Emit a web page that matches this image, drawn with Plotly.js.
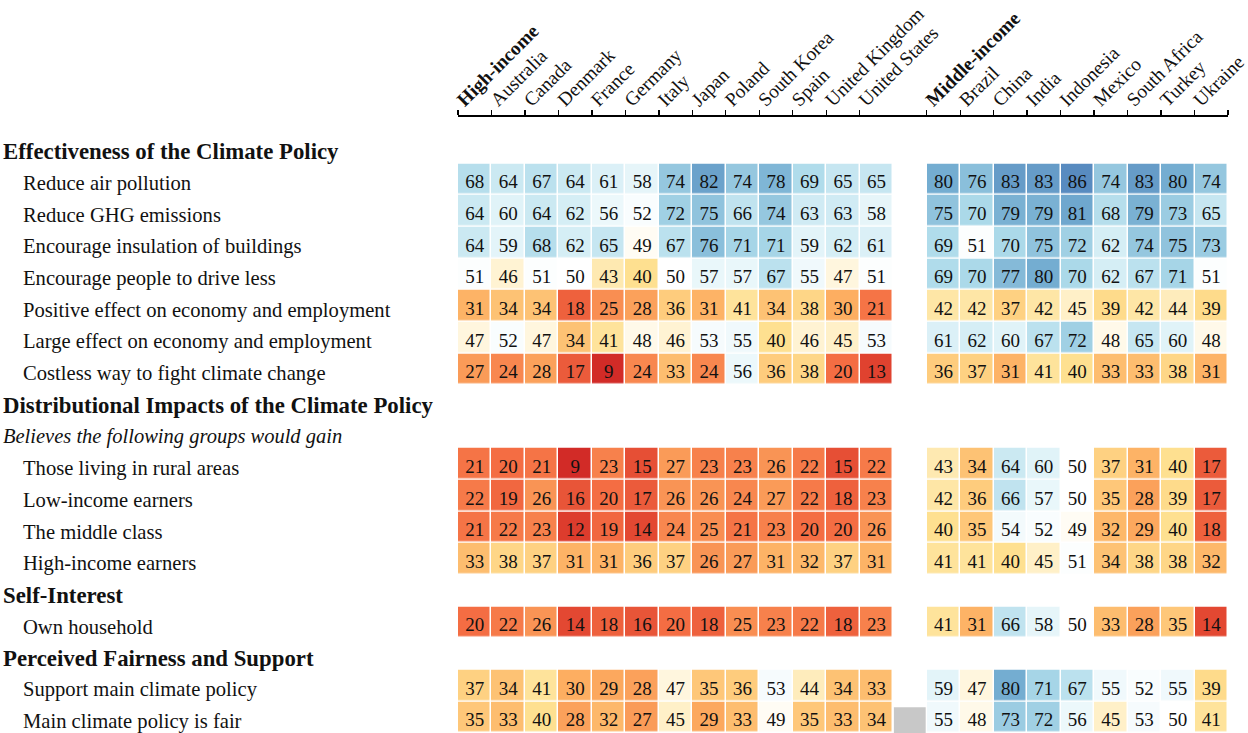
<!DOCTYPE html>
<html>
<head>
<meta charset="utf-8">
<script src="https://cdn.plot.ly/plotly-3.0.1.min.js"></script>
<style>html,body{margin:0;padding:0;background:#fff;}#chart{width:1248px;height:733px;}</style>
</head>
<body>
<div id="chart"></div>
<script>
// ---- Data ----
const highIncomeLabels = ['High-income','Australia','Canada','Denmark','France','Germany','Italy','Japan','Poland','South Korea','Spain','United Kingdom','United States'];
const middleIncomeLabels = ['Middle-income','Brazil','China','India','Indonesia','Mexico','South Africa','Turkey','Ukraine'];

const rowLabels = [
  'Effectiveness of the Climate Policy',
  'Reduce air pollution',
  'Reduce GHG emissions',
  'Encourage insulation of buildings',
  'Encourage people to drive less',
  'Positive effect on economy and employment',
  'Large effect on economy and employment',
  'Costless way to fight climate change',
  'Distributional Impacts of the Climate Policy',
  'Believes the following groups would gain',
  'Those living in rural areas',
  'Low-income earners',
  'The middle class',
  'High-income earners',
  'Self-Interest',
  'Own household',
  'Perceived Fairness and Support',
  'Support main climate policy',
  'Main climate policy is fair'
];
// h = section header (bold), s = subheader (italic), i = item
const rowKinds = ['h','i','i','i','i','i','i','i','h','s','i','i','i','i','h','i','h','i','i'];

// values for item rows only, in order
const highIncomeValues = [
  [68,64,67,64,61,58,74,82,74,78,69,65,65],
  [64,60,64,62,56,52,72,75,66,74,63,63,58],
  [64,59,68,62,65,49,67,76,71,71,59,62,61],
  [51,46,51,50,43,40,50,57,57,67,55,47,51],
  [31,34,34,18,25,28,36,31,41,34,38,30,21],
  [47,52,47,34,41,48,46,53,55,40,46,45,53],
  [27,24,28,17,9,24,33,24,56,36,38,20,13],
  [21,20,21,9,23,15,27,23,23,26,22,15,22],
  [22,19,26,16,20,17,26,26,24,27,22,18,23],
  [21,22,23,12,19,14,24,25,21,23,20,20,26],
  [33,38,37,31,31,36,37,26,27,31,32,37,31],
  [20,22,26,14,18,16,20,18,25,23,22,18,23],
  [37,34,41,30,29,28,47,35,36,53,44,34,33],
  [35,33,40,28,32,27,45,29,33,49,35,33,34]
];
const middleIncomeValues = [
  [80,76,83,83,86,74,83,80,74],
  [75,70,79,79,81,68,79,73,65],
  [69,51,70,75,72,62,74,75,73],
  [69,70,77,80,70,62,67,71,51],
  [42,42,37,42,45,39,42,44,39],
  [61,62,60,67,72,48,65,60,48],
  [36,37,31,41,40,33,33,38,31],
  [43,34,64,60,50,37,31,40,17],
  [42,36,66,57,50,35,28,39,17],
  [40,35,54,52,49,32,29,40,18],
  [41,41,40,45,51,34,38,38,32],
  [41,31,66,58,50,33,28,35,14],
  [59,47,80,71,67,55,52,55,39],
  [55,48,73,72,56,45,53,50,41]
];

// ---- Build matrix ----
const nHigh = highIncomeLabels.length;           // 13
const gapCols = 1;
const midStart = nHigh + gapCols;                 // 14
const nCols = midStart + middleIncomeLabels.length; // 23
const nRows = rowLabels.length;

const z = [];
const tx = [], ty = [], tt = [];
let item = 0;
for (let r = 0; r < nRows; r++) {
  const row = new Array(nCols).fill(null);
  if (rowKinds[r] === 'i') {
    highIncomeValues[item].forEach((v, c) => { row[c] = v; tx.push(c); ty.push(r + 0.14); tt.push(String(v)); });
    middleIncomeValues[item].forEach((v, c) => { row[midStart + c] = v; tx.push(midStart + c); ty.push(r + 0.14); tt.push(String(v)); });
    item++;
  }
  z.push(row);
}
const xs = Array.from({length: nCols}, (_, i) => i);
const ys = Array.from({length: nRows}, (_, i) => i);

const colorscale = [
  [0.0, '#a50026'], [0.1, '#d73027'], [0.2, '#f46d43'], [0.3, '#fdae61'],
  [0.4, '#fee090'], [0.5, '#ffffff'], [0.6, '#e0f3f8'], [0.7, '#abd9e9'],
  [0.8, '#74add1'], [0.9, '#4575b4'], [1.0, '#313695']
];

const FONT = 'Liberation Serif, Times New Roman, serif';

const tickvals = [], ticktext = [];
highIncomeLabels.forEach((l, i) => { tickvals.push(i - 0.5); ticktext.push(i === 0 ? '<b>' + l + '</b>' : l); });
middleIncomeLabels.forEach((l, i) => { tickvals.push(midStart + i - 0.5); ticktext.push(i === 0 ? '<b>' + l + '</b>' : l); });
tickvals.push(nCols - 0.5); ticktext.push('');

const heat = {
  type: 'heatmap', x: xs, y: ys, z: z, zmin: 0, zmax: 100,
  colorscale: colorscale, showscale: false, xgap: 1.5, ygap: 1.5,
  hoverinfo: 'skip'
};
const labels = {
  type: 'scatter', mode: 'text', x: tx, y: ty, text: tt,
  textposition: 'middle center', textfont: {family: FONT, size: 19, color: '#111'},
  hoverinfo: 'skip', showlegend: false, cliponaxis: false
};

const W = 1248, H = 733, L = 458, R = 20, T = 115, B = 0;
const plotW = W - L - R;
const annotations = rowLabels.map((lab, r) => {
  const kind = rowKinds[r];
  const px = kind === 'i' ? 22 : 2;
  let text = lab, size = 20.6;
  if (kind === 'h') { text = '<b>' + lab + '</b>'; size = 22.8; }
  if (kind === 's') { text = '<i>' + lab + '</i>'; size = 20.5; }
  return {
    xref: 'paper', yref: 'y', x: (px - L) / plotW, y: r + 0.14,
    xanchor: 'left', yanchor: 'middle', showarrow: false, text: text,
    font: {family: FONT, size: size, color: '#111'}, borderpad: 0
  };
});

const layout = {
  width: W, height: H,
  margin: {l: L, r: R, t: T, b: B, pad: 0},
  paper_bgcolor: '#fff', plot_bgcolor: '#fff',
  showlegend: false,
  xaxis: {
    range: [-0.5, nCols - 0.5], side: 'top', anchor: 'free', position: 1,
    showline: true, linecolor: '#000', linewidth: 1.5,
    ticks: 'outside', ticklen: 5, tickwidth: 1.3, tickcolor: '#000',
    tickmode: 'array', tickvals: tickvals, ticktext: ticktext, tickangle: -45,
    ticklabeloverflow: 'allow', ticklabelstandoff: -8,
    tickfont: {family: FONT, size: 19.3, color: '#111'},
    showgrid: false, zeroline: false, fixedrange: true
  },
  yaxis: {
    range: [nRows - 0.5, -0.5], domain: [0, 1 - (131.7 - T) / (H - T - B)],
    showticklabels: false, showgrid: false, zeroline: false, showline: false, ticks: '',
    fixedrange: true
  },
  annotations: annotations,
  shapes: [{
    type: 'rect', xref: 'x', yref: 'y', x0: nHigh - 0.48, x1: nHigh + 0.47,
    y0: nRows - 1.31, y1: nRows - 0.5, fillcolor: '#c8c8c8', line: {width: 0}, layer: 'below'
  }]
};

Plotly.newPlot('chart', [heat, labels], layout, {staticPlot: true, displayModeBar: false});
</script>
</body>
</html>
